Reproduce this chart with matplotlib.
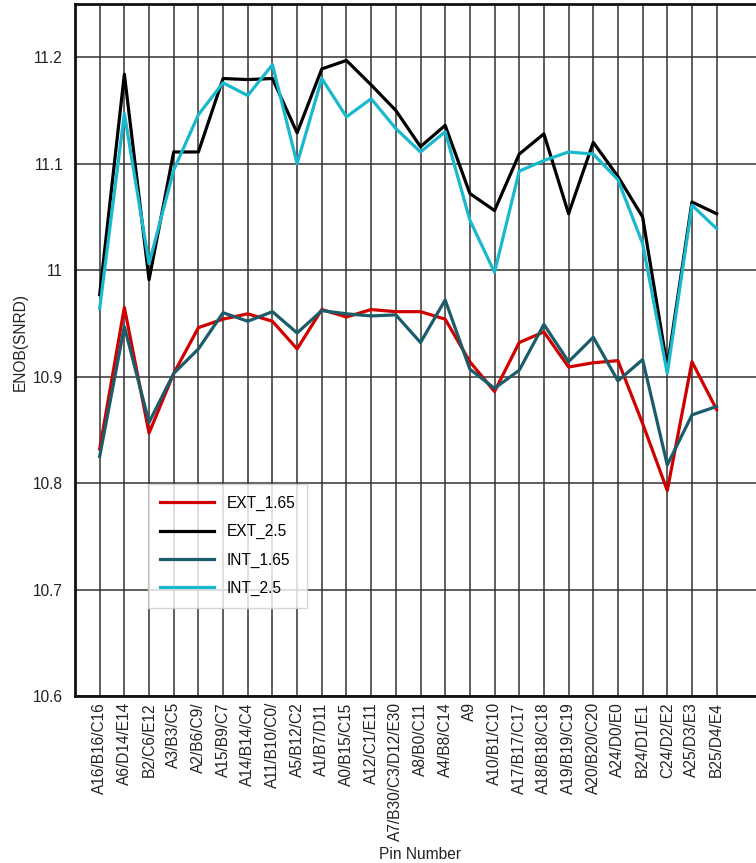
import matplotlib
matplotlib.use('Agg')
import matplotlib.pyplot as plt

plt.rcParams['font.family'] = ['Liberation Sans', 'DejaVu Sans']

pins = ['A16/B16/C16', 'A6/D14/E14', 'B2/C6/E12', 'A3/B3/C5', 'A2/B6/C9/',
        'A15/B9/C7', 'A14/B14/C4', 'A11/B10/C0/', 'A5/B12/C2', 'A1/B7/D11',
        'A0/B15/C15', 'A12/C1/E11', 'A7/B30/C3/D12/E30', 'A8/B0/C11',
        'A4/B8/C14', 'A9', 'A10/B1/C10', 'A17/B17/C17', 'A18/B18/C18',
        'A19/B19/C19', 'A20/B20/C20', 'A24/D0/E0', 'B24/D1/E1', 'C24/D2/E2',
        'A25/D3/E3', 'B25/D4/E4']

ext_165 = [10.832, 10.965, 10.847, 10.903, 10.946, 10.954, 10.959, 10.952,
           10.926, 10.963, 10.956, 10.963, 10.961, 10.961, 10.954, 10.914,
           10.886, 10.932, 10.942, 10.909, 10.913, 10.915, 10.856, 10.793,
           10.914, 10.869]
ext_25 = [10.977, 11.184, 10.991, 11.111, 11.111, 11.180, 11.179, 11.180,
          11.129, 11.189, 11.197, 11.174, 11.150, 11.116, 11.136, 11.072,
          11.056, 11.109, 11.128, 11.053, 11.120, 11.088, 11.050, 10.909,
          11.064, 11.053]
int_165 = [10.825, 10.947, 10.857, 10.903, 10.926, 10.960, 10.952, 10.961,
           10.941, 10.962, 10.959, 10.957, 10.958, 10.932, 10.972, 10.907,
           10.889, 10.906, 10.949, 10.914, 10.937, 10.896, 10.916, 10.817,
           10.864, 10.872]
int_25 = [10.964, 11.147, 11.006, 11.094, 11.146, 11.176, 11.164, 11.193,
          11.100, 11.180, 11.144, 11.161, 11.133, 11.111, 11.130, 11.047,
          10.998, 11.093, 11.103, 11.111, 11.109, 11.085, 11.025, 10.903,
          11.061, 11.039]

W, H = 756, 863
fig = plt.figure(figsize=(W / 100, H / 100), dpi=100)
# axes runs past the right edge of the picture, like the original crop
ax = fig.add_axes([75 / W, 1 - 696 / H, (766 - 75) / W, (696 - 4) / H])

x = list(range(len(pins)))
lw = 2.3
ax.plot(x, ext_165, color='#d00000', lw=lw, label='EXT_1.65')
ax.plot(x, ext_25, color='#000000', lw=lw, label='EXT_2.5')
ax.plot(x, int_165, color='#1b5c6b', lw=lw, label='INT_1.65')
ax.plot(x, int_25, color='#19b8cc', lw=lw, label='INT_2.5')

fs = 11.2
ax.set_xlim(-1, 27)
ax.set_ylim(10.6, 11.25)
ax.set_xticks(x)
ax.set_xticklabels(pins, rotation=90, fontsize=fs)
ax.set_yticks([10.6, 10.7, 10.8, 10.9, 11.0, 11.1, 11.2])
ax.set_yticklabels(['10.6', '10.7', '10.8', '10.9', '11', '11.1', '11.2'], fontsize=fs)
ax.tick_params(axis='both', length=0, colors='#222222')
ax.tick_params(axis='y', pad=8.6)
ax.tick_params(axis='x', pad=4.5)

ax.grid(True, color='#333333', lw=1.1)
ax.set_axisbelow(True)
for s in ax.spines.values():
    s.set_linewidth(2)
    s.set_color('#111111')

ax.set_xlabel('Pin Number', fontsize=fs, color='#222222')
ax.xaxis.set_label_coords(0.499, -0.218)
ax.set_ylabel('ENOB(SNRD)', fontsize=fs, color='#222222')
ax.yaxis.set_label_coords(-0.069, 0.511)

leg = ax.legend(loc='upper left', bbox_to_anchor=((148 - 75) / 691, (696 - 484) / 692),
                frameon=True, fancybox=False, fontsize=fs, handlelength=3.5,
                handletextpad=0.82, borderpad=0.75, labelspacing=0.85,
                borderaxespad=0)
leg.get_frame().set_edgecolor('#cccccc')
leg.get_frame().set_linewidth(1)

fig.savefig('out.png', dpi=100)
